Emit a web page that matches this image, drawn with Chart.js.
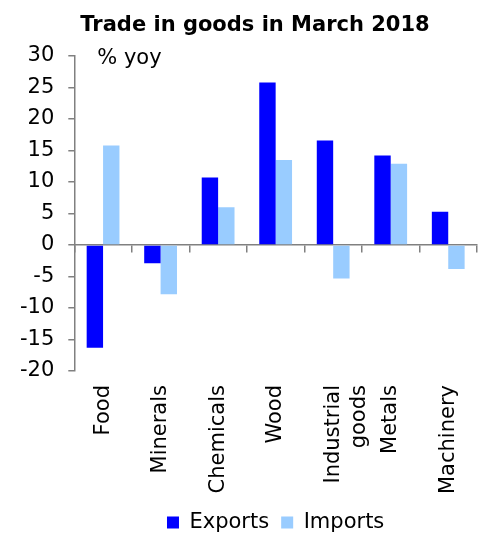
<!DOCTYPE html>
<html lang="en">
<head>
  <meta charset="UTF-8">
  <title>Trade in goods in March 2018</title>
  <script src="https://cdn.jsdelivr.net/npm/chart.js"></script>
  <style>
    html, body { margin: 0; padding: 0; background: #fff; }
    #wrap { width: 486px; height: 533px; }
  </style>
</head>
<body>
  <div id="wrap"><canvas id="tradeChart"></canvas></div>
  <script>
    // Year-on-year change by product group, March 2018
    const categories = ['Food', 'Minerals', 'Chemicals', 'Wood', ['Industrial', 'goods'], 'Metals', 'Machinery'];
    const exportsYoy = [-16.3, -2.9, 10.7, 25.8, 16.6, 14.2, 5.3];
    const importsYoy = [15.8, -7.8, 6.0, 13.5, -5.3, 12.9, -3.8];
    const yTicks = [-20, -15, -10, -5, 0, 5, 10, 15, 20, 25, 30];

    const font = 'DejaVu Sans';
    const axisGrey = '#808080';

    // title and unit note are drawn by hand so they sit where we want them
    const headerText = {
      id: 'headerText',
      afterDraw(chart) {
        const ctx = chart.ctx;
        const area = chart.chartArea;
        ctx.save();
        ctx.fillStyle = '#000';
        ctx.textBaseline = 'middle';
        ctx.textAlign = 'center';
        ctx.font = 'bold 21px "' + font + '"';
        ctx.fillText('Trade in goods in March 2018', 255, 26);
        ctx.textAlign = 'left';
        ctx.font = '21px "' + font + '"';
        ctx.fillText('% yoy', area.left + 23, area.top + 3);
        ctx.restore();
      }
    };

    new Chart(document.getElementById('tradeChart'), {
      type: 'bar',
      data: {
        labels: categories,
        datasets: [{
          label: 'Exports',
          data: exportsYoy,
          backgroundColor: '#0000ff',
          xAxisID: 'x'
        }, {
          label: 'Imports',
          data: importsYoy,
          backgroundColor: '#99ccff',
          xAxisID: 'x'
        }]
      },
      options: {
        responsive: true,
        maintainAspectRatio: false,
        animation: false,
        categoryPercentage: 0.57,
        barPercentage: 1,
        // negative bottom pulls the legend's inner padding off the canvas edge
        layout: { padding: { top: 56, left: 6, right: 9, bottom: -10 } },
        plugins: {
          title: { display: false },
          tooltip: { enabled: false },
          legend: {
            position: 'bottom',
            fullSize: false,
            labels: {
              boxWidth: 12,
              boxHeight: 12,
              padding: 12,
              color: '#000',
              font: { family: font, size: 21 }
            }
          }
        },
        scales: {
          x: {
            type: 'category',
            position: 'bottom',
            grid: { display: false },
            border: { display: false },
            ticks: {
              maxRotation: 90,
              minRotation: 90,
              padding: 6,
              color: '#000',
              font: { family: font, size: 21, lineHeight: 1.25 }
            }
          },
          // zero line with category boundary ticks
          x2: {
            type: 'category',
            position: { y: 0 },
            offset: true,
            grid: { offset: true, drawOnChartArea: false, tickLength: 7, color: axisGrey, lineWidth: 1.5 },
            border: { color: axisGrey, width: 1.5 },
            ticks: { display: false }
          },
          y: {
            min: -20,
            max: 30,
            afterBuildTicks(scale) {
              scale.ticks = yTicks.map(v => ({ value: v }));
            },
            grid: { drawOnChartArea: false, tickLength: 6, color: axisGrey, lineWidth: 1.5 },
            border: { color: axisGrey, width: 1.5 },
            ticks: {
              padding: 14,
              color: '#000',
              font: { family: font, size: 21 }
            }
          }
        }
      },
      plugins: [headerText]
    });
  </script>
</body>
</html>
